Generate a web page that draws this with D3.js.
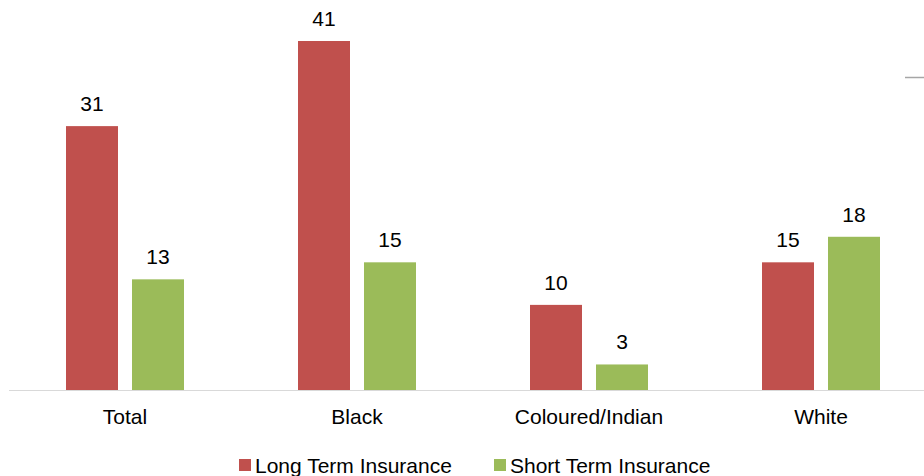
<!DOCTYPE html>
<head>
  <meta charset="utf-8">
  <script src="https://d3js.org/d3.v7.min.js"></script>
  <style>
    body { margin: 0; background: white; }
    text { font-family: "Liberation Sans", Arial, sans-serif; fill: #000; }
  </style>
</head>
<body>
  <div id="chart"></div>
  <script>

  var categories = ["Total", "Black", "Coloured/Indian", "White"];
  var seriesNames = ["Long Term Insurance", "Short Term Insurance"];
  var longTerm = [31, 41, 10, 15];
  var shortTerm = [13, 15, 3, 18];
  var colors = ["#c0504d", "#9bbb59"];

  var width = 924;
  var height = 476;
  var baseY = 390;
  var fontSize = "21px";

  var svg = d3.select("#chart").append("svg")
    .attr("width", width)
    .attr("height", height);

  var x = d3.scaleBand()
    .domain(categories)
    .range([9, 937]);

  // offsets of the two bars inside each category band
  var inner = d3.scaleOrdinal().domain(seriesNames).range([57, 123]);
  var barW = 52;

  var y = d3.scaleLinear()
    .domain([0, 41])
    .range([baseY, 41]);

  var rows = categories.map(function(c, i) {
    return { cat: c, values: [longTerm[i], shortTerm[i]] };
  });

  var groups = svg.selectAll("g.cat")
    .data(rows)
    .enter().append("g")
    .attr("class", "cat")
    .attr("transform", function(d) { return "translate(" + x(d.cat) + ",0)"; });

  groups.selectAll("rect")
    .data(function(d) { return d.values.map(function(v, j) { return { s: seriesNames[j], v: v, j: j }; }); })
    .enter().append("rect")
    .attr("x", function(d) { return inner(d.s); })
    .attr("y", function(d) { return y(d.v); })
    .attr("width", barW)
    .attr("height", function(d) { return baseY - y(d.v); })
    .style("fill", function(d) { return colors[d.j]; });

  groups.selectAll("text.val")
    .data(function(d) { return d.values.map(function(v, j) { return { s: seriesNames[j], v: v }; }); })
    .enter().append("text")
    .attr("class", "val")
    .attr("x", function(d) { return inner(d.s) + barW / 2; })
    .attr("y", function(d) { return y(d.v) - 15; })
    .attr("text-anchor", "middle")
    .style("font-size", fontSize)
    .text(function(d) { return d.v; });

  // axis baseline
  svg.append("line")
    .attr("x1", 9).attr("x2", width)
    .attr("y1", baseY + 0.5).attr("y2", baseY + 0.5)
    .style("stroke", "#d9d9d9")
    .style("stroke-width", 1);

  groups.append("text")
    .attr("x", x.bandwidth() / 2)
    .attr("y", 424)
    .attr("text-anchor", "middle")
    .style("font-size", fontSize)
    .text(function(d) { return d.cat; });

  // small grey line at top right
  svg.append("line")
    .attr("x1", 905).attr("x2", width)
    .attr("y1", 77.5).attr("y2", 77.5)
    .style("stroke", "#a6a6a6")
    .style("stroke-width", 1.5);

  // legend
  var legendX = [239, 494];
  var legend = svg.selectAll("g.legend")
    .data(seriesNames)
    .enter().append("g")
    .attr("class", "legend")
    .attr("transform", function(d, i) { return "translate(" + legendX[i] + ",0)"; });

  legend.append("rect")
    .attr("x", 0).attr("y", 459)
    .attr("width", 12).attr("height", 12)
    .style("fill", function(d, i) { return colors[i]; });

  legend.append("text")
    .attr("x", 16)
    .attr("y", 473)
    .style("font-size", fontSize)
    .text(function(d) { return d; });

  </script>
</body>
